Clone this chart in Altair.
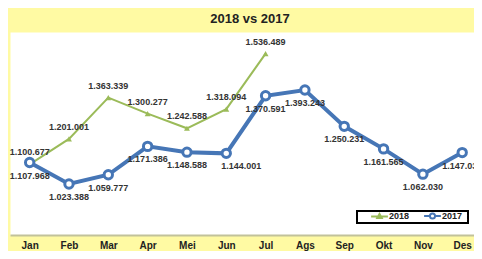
import altair as alt
import pandas as pd

months = ["Jan", "Feb", "Mar", "Apr", "Mei", "Jun", "Jul", "Ags", "Sep", "Okt", "Nov", "Des"]
v2018 = [1100677, 1201001, 1363339, 1300277, 1242588, 1318094, 1536489]
v2017 = [1107968, 1023388, 1059777, 1171386, 1148588, 1144001, 1370591,
         1393243, 1250231, 1161565, 1062030, 1147030]
series = ["2018", "2017"]


def fmt(v):
    return f"{v:,}".replace(",", ".")


rows = []
for i, v in enumerate(v2018):
    rows.append({"idx": i, "month": months[i], "series": "2018", "value": v, "label": fmt(v)})
for i, v in enumerate(v2017):
    rows.append({"idx": i, "month": months[i], "series": "2017", "value": v, "label": fmt(v)})
df = pd.DataFrame(rows)

GREEN = "#9BBB59"
BLUE = "#4676B6"
FONT = "Liberation Sans"

label_expr = "[" + ",".join(f"'{m}'" for m in months) + "][datum.value]"

x = alt.X("idx:Q",
          scale=alt.Scale(domain=[-0.5, 11.3], nice=False, zero=False),
          axis=alt.Axis(values=list(range(len(months))), labelExpr=label_expr, title=None,
                        ticks=False, grid=False, domainColor="#C2C29A", domainWidth=2,
                        labelFont=FONT, labelFontSize=10, labelFontWeight="bold",
                        labelColor="#222222", labelPadding=5, labelFlush=False))
y = alt.Y("value:Q", scale=alt.Scale(domain=[822700, 1621500], nice=False, zero=False), axis=None)

base = alt.Chart(df).encode(x=x, y=y)
d17 = base.transform_filter("datum.series == '2017'")
d18 = base.transform_filter("datum.series == '2018'")

line18 = d18.mark_line(color=GREEN, strokeWidth=2)
line17 = d17.mark_line(color=BLUE, strokeWidth=4)
pts18 = d18.mark_point(shape="triangle-up", filled=True, color=GREEN, size=35, opacity=1)
pts17 = d17.mark_point(shape="circle", filled=False, stroke=BLUE, fill="white",
                       strokeWidth=3, size=70, opacity=1, fillOpacity=1)
txt_style = dict(font=FONT, fontSize=9, fontWeight="bold", color="#333333")
txt18 = d18.mark_text(dy=-12, **txt_style).encode(text="label:N")
txt17 = d17.transform_filter("datum.month != 'Jun'").mark_text(dy=13, **txt_style).encode(text="label:N")
txt17jun = d17.transform_filter("datum.month == 'Jun'").mark_text(dy=13, dx=15, **txt_style).encode(text="label:N")

path18 = "M-2.8,0H2.8M0,-0.8L0.75,0.55L-0.75,0.55Z"
path17 = "M-2.8,0H-0.85M0.85,0H2.8M0.85,0A0.85,0.85 0 1 1 -0.85,0A0.85,0.85 0 1 1 0.85,0"

LEG_TITLE = "x"
legend_layer = base.transform_filter("false").mark_point(filled=False, opacity=1).encode(
    color=alt.Color("series:N", scale=alt.Scale(domain=series, range=[GREEN, BLUE]),
                    legend=alt.Legend(title=LEG_TITLE, orient="none", legendX=347, legendY=179,
                                      direction="horizontal", symbolSize=36,
                                      symbolStrokeWidth=2, symbolOffset=18,
                                      labelOffset=5, columnPadding=0,
                                      labelFont=FONT, labelFontSize=9, labelFontWeight="bold",
                                      labelColor="#222222", padding=0,
                                      titleOrient="right", titleColor="white",
                                      titleFontSize=9, titlePadding=0,
                                      strokeColor="black", fillColor="white")),
    shape=alt.Shape("series:N", scale=alt.Scale(domain=series, range=[path18, path17]),
                    legend=alt.Legend(title=LEG_TITLE, orient="none", legendX=347, legendY=179,
                                      direction="horizontal")),
)

chart = alt.layer(line18, line17, pts18, pts17, txt18, txt17, txt17jun, legend_layer).properties(
    width=464, height=203,
    autosize=alt.AutoSizeParams(type="none"),
    padding={"left": 2, "top": 24, "right": 0, "bottom": 16},
    background="#FFFAA3",
    title=alt.TitleParams("2018 vs  2017", fontSize=13, fontWeight="bold", font=FONT,
                          color="#222222", anchor="middle", frame="group", offset=0,
                          baseline="alphabetic", dx=8, dy=4),
).configure_view(fill="white", stroke="transparent").configure_legend(strokeWidth=2)

chart.save("out.html", embed_options={"renderer": "svg", "actions": False})
